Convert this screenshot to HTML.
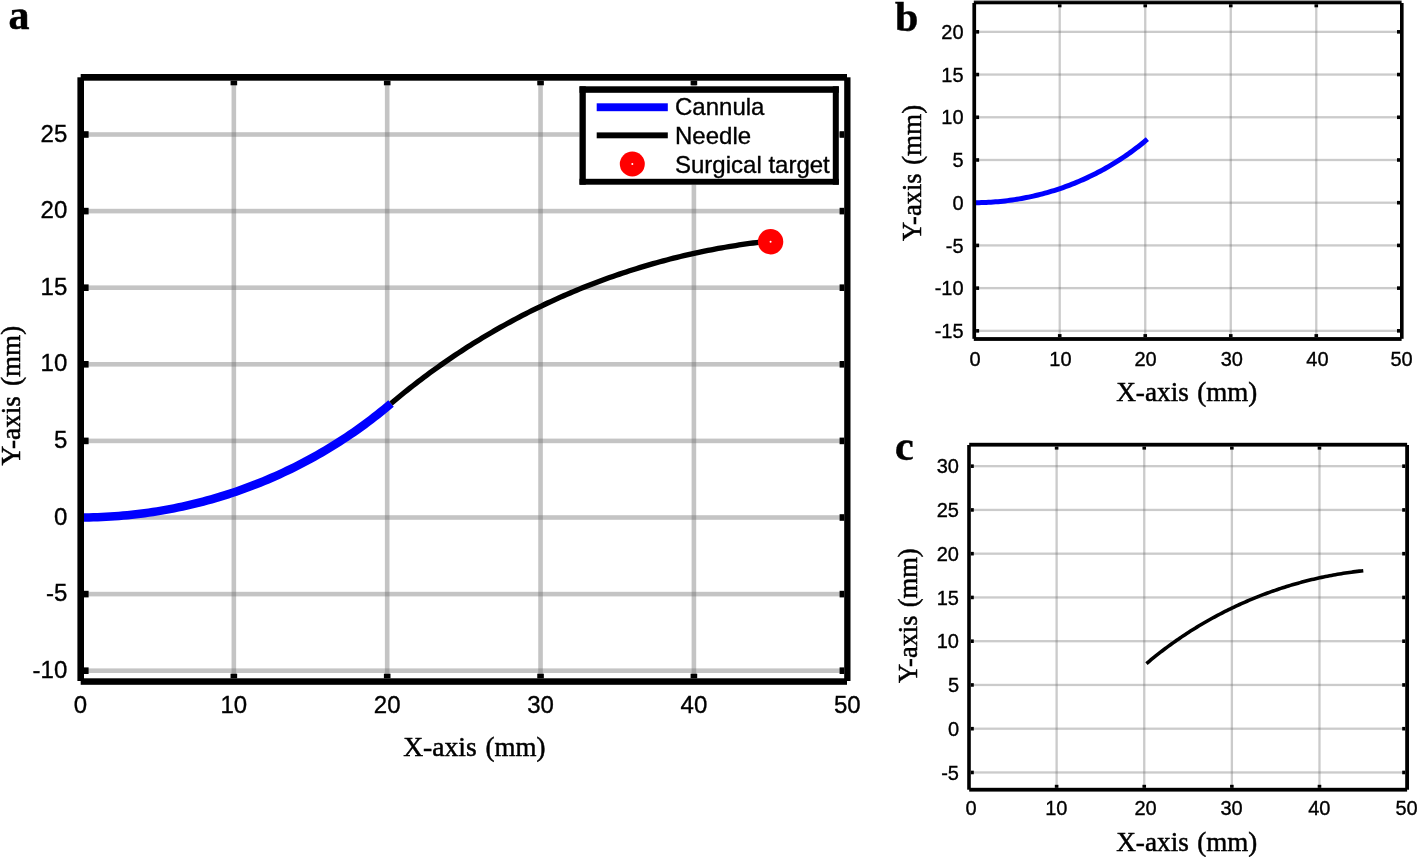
<!DOCTYPE html>
<html><head><meta charset="utf-8"><style>
html,body{margin:0;padding:0;background:#fff;}
body{width:1417px;height:857px;overflow:hidden;}
svg{display:block;}
.t{font-family:"Liberation Sans",Arial,sans-serif;fill:#000;stroke:#000;stroke-width:0.35px;}
.s{font-family:"Liberation Serif","Times New Roman",serif;fill:#000;stroke:#000;stroke-width:0.5px;}
</style></head><body>
<svg width="1417" height="857" viewBox="0 0 1417 857">
<rect width="1417" height="857" fill="#fff"/>
<rect x="973.8" y="0" width="427.8" height="1.1" fill="#a0a0a0"/>
<rect x="231.55" y="80.70" width="4.60" height="597.60" fill="#707070" fill-opacity="0.41"/>
<rect x="384.90" y="80.70" width="4.60" height="597.60" fill="#707070" fill-opacity="0.41"/>
<rect x="538.25" y="80.70" width="4.60" height="597.60" fill="#707070" fill-opacity="0.41"/>
<rect x="691.60" y="80.70" width="4.60" height="597.60" fill="#707070" fill-opacity="0.41"/>
<rect x="84.00" y="668.40" width="760.20" height="4.60" fill="#707070" fill-opacity="0.41"/>
<rect x="84.00" y="591.80" width="760.20" height="4.60" fill="#707070" fill-opacity="0.41"/>
<rect x="84.00" y="515.20" width="760.20" height="4.60" fill="#707070" fill-opacity="0.41"/>
<rect x="84.00" y="438.60" width="760.20" height="4.60" fill="#707070" fill-opacity="0.41"/>
<rect x="84.00" y="362.00" width="760.20" height="4.60" fill="#707070" fill-opacity="0.41"/>
<rect x="84.00" y="285.40" width="760.20" height="4.60" fill="#707070" fill-opacity="0.41"/>
<rect x="84.00" y="208.80" width="760.20" height="4.60" fill="#707070" fill-opacity="0.41"/>
<rect x="84.00" y="132.20" width="760.20" height="4.60" fill="#707070" fill-opacity="0.41"/>
<rect x="230.55" y="80.70" width="6.60" height="4.60" fill="#000"/>
<rect x="230.55" y="673.70" width="6.60" height="4.60" fill="#000"/>
<rect x="383.90" y="80.70" width="6.60" height="4.60" fill="#000"/>
<rect x="383.90" y="673.70" width="6.60" height="4.60" fill="#000"/>
<rect x="537.25" y="80.70" width="6.60" height="4.60" fill="#000"/>
<rect x="537.25" y="673.70" width="6.60" height="4.60" fill="#000"/>
<rect x="690.60" y="80.70" width="6.60" height="4.60" fill="#000"/>
<rect x="690.60" y="673.70" width="6.60" height="4.60" fill="#000"/>
<rect x="84.00" y="667.40" width="4.60" height="6.60" fill="#000"/>
<rect x="839.60" y="667.40" width="4.60" height="6.60" fill="#000"/>
<rect x="84.00" y="590.80" width="4.60" height="6.60" fill="#000"/>
<rect x="839.60" y="590.80" width="4.60" height="6.60" fill="#000"/>
<rect x="84.00" y="514.20" width="4.60" height="6.60" fill="#000"/>
<rect x="839.60" y="514.20" width="4.60" height="6.60" fill="#000"/>
<rect x="84.00" y="437.60" width="4.60" height="6.60" fill="#000"/>
<rect x="839.60" y="437.60" width="4.60" height="6.60" fill="#000"/>
<rect x="84.00" y="361.00" width="4.60" height="6.60" fill="#000"/>
<rect x="839.60" y="361.00" width="4.60" height="6.60" fill="#000"/>
<rect x="84.00" y="284.40" width="4.60" height="6.60" fill="#000"/>
<rect x="839.60" y="284.40" width="4.60" height="6.60" fill="#000"/>
<rect x="84.00" y="207.80" width="4.60" height="6.60" fill="#000"/>
<rect x="839.60" y="207.80" width="4.60" height="6.60" fill="#000"/>
<rect x="84.00" y="131.20" width="4.60" height="6.60" fill="#000"/>
<rect x="839.60" y="131.20" width="4.60" height="6.60" fill="#000"/>
<path d="M80.50,517.50 L84.78,517.48 L89.05,517.42 L93.33,517.33 L97.60,517.20 L101.87,517.02 L106.14,516.81 L110.41,516.57 L114.68,516.28 L118.94,515.96 L123.20,515.60 L127.46,515.20 L131.71,514.76 L135.96,514.29 L140.20,513.77 L144.44,513.22 L148.68,512.63 L152.91,512.01 L157.13,511.35 L161.35,510.64 L165.56,509.91 L169.76,509.13 L173.96,508.32 L178.15,507.46 L182.33,506.58 L186.51,505.65 L190.67,504.69 L194.83,503.69 L198.98,502.65 L203.11,501.58 L207.24,500.47 L211.36,499.32 L215.47,498.14 L219.57,496.92 L223.65,495.66 L227.73,494.37 L231.79,493.04 L235.84,491.67 L239.88,490.27 L243.91,488.84 L247.92,487.36 L251.92,485.85 L255.91,484.31 L259.88,482.73 L263.84,481.11 L267.78,479.46 L271.71,477.78 L275.62,476.06 L279.52,474.30 L283.40,472.51 L287.27,470.69 L291.12,468.83 L294.95,466.94 L298.77,465.01 L302.56,463.05 L306.35,461.06 L310.11,459.03 L313.85,456.97 L317.58,454.87 L321.29,452.75 L324.97,450.58 L328.64,448.39 L332.29,446.17 L335.92,443.91 L339.53,441.62 L343.12,439.29 L346.69,436.94 L350.23,434.55 L353.76,432.14 L357.26,429.69 L360.74,427.21 L364.20,424.70 L367.63,422.15 L371.05,419.58 L374.44,416.98 L377.81,414.35 L381.15,411.68 L384.47,408.99 L387.76,406.27 L391.03,403.52" fill="none" stroke="#0000ff" stroke-width="8.5" stroke-linejoin="round"/>
<path d="M391.03,403.52 L393.72,401.25 L396.43,398.99 L399.14,396.74 L401.86,394.51 L404.60,392.30 L407.35,390.09 L410.10,387.90 L412.87,385.73 L415.65,383.57 L418.44,381.42 L421.24,379.29 L424.06,377.17 L426.88,375.06 L429.71,372.97 L432.56,370.89 L435.41,368.83 L438.27,366.78 L441.15,364.75 L444.03,362.73 L446.93,360.72 L449.83,358.73 L452.75,356.76 L455.67,354.80 L458.61,352.85 L461.55,350.92 L464.51,349.00 L467.47,347.10 L470.44,345.21 L473.43,343.34 L476.42,341.48 L479.42,339.64 L482.43,337.81 L485.45,336.00 L488.48,334.20 L491.52,332.42 L494.56,330.66 L497.62,328.91 L500.68,327.17 L503.76,325.45 L506.84,323.75 L509.93,322.06 L513.03,320.38 L516.14,318.73 L519.25,317.08 L522.37,315.46 L525.51,313.85 L528.65,312.25 L531.79,310.67 L534.95,309.11 L538.11,307.56 L541.29,306.03 L544.46,304.51 L547.65,303.01 L550.84,301.53 L554.05,300.06 L557.26,298.61 L560.47,297.17 L563.69,295.75 L566.93,294.35 L570.16,292.96 L573.41,291.59 L576.66,290.24 L579.92,288.90 L583.18,287.58 L586.45,286.27 L589.73,284.98 L593.01,283.71 L596.31,282.46 L599.60,281.22 L602.91,279.99 L606.21,278.79 L609.53,277.60 L612.85,276.42 L616.18,275.27 L619.51,274.13 L622.85,273.01 L626.19,271.90 L629.54,270.81 L632.90,269.74 L636.26,268.68 L639.62,267.65 L643.00,266.62 L646.37,265.62 L649.75,264.63 L653.14,263.66 L656.53,262.71 L659.92,261.77 L663.33,260.85 L666.73,259.95 L670.14,259.06 L673.55,258.19 L676.97,257.34 L680.39,256.51 L683.82,255.69 L687.25,254.89 L690.68,254.11 L694.12,253.35 L697.57,252.60 L701.01,251.87 L704.46,251.15 L707.91,250.46 L711.37,249.78 L714.83,249.12 L718.29,248.48 L721.76,247.85 L725.23,247.24 L728.70,246.65 L732.18,246.07 L735.66,245.52 L739.14,244.98 L742.62,244.46 L746.11,243.95 L749.60,243.47 L753.09,243.00 L756.58,242.55 L760.08,242.11 L763.57,241.70 L767.07,241.30 L770.58,240.92" fill="none" stroke="#000" stroke-width="5.3" stroke-linejoin="round"/>
<rect x="77.40" y="77.30" width="6.60" height="603.70" fill="#000"/>
<rect x="844.20" y="77.30" width="6.30" height="603.70" fill="#000"/>
<rect x="80.70" y="74.00" width="766.30" height="6.70" fill="#000"/>
<rect x="80.70" y="678.30" width="766.30" height="6.50" fill="#000"/>
<text x="67.30" y="677.70" text-anchor="end" class="t" font-size="24">-10</text>
<text x="67.30" y="601.10" text-anchor="end" class="t" font-size="24">-5</text>
<text x="67.30" y="524.50" text-anchor="end" class="t" font-size="24">0</text>
<text x="67.30" y="447.90" text-anchor="end" class="t" font-size="24">5</text>
<text x="67.30" y="371.30" text-anchor="end" class="t" font-size="24">10</text>
<text x="67.30" y="294.70" text-anchor="end" class="t" font-size="24">15</text>
<text x="67.30" y="218.10" text-anchor="end" class="t" font-size="24">20</text>
<text x="67.30" y="141.50" text-anchor="end" class="t" font-size="24">25</text>
<text x="80.50" y="712.60" text-anchor="middle" class="t" font-size="24">0</text>
<text x="233.85" y="712.60" text-anchor="middle" class="t" font-size="24">10</text>
<text x="387.20" y="712.60" text-anchor="middle" class="t" font-size="24">20</text>
<text x="540.55" y="712.60" text-anchor="middle" class="t" font-size="24">30</text>
<text x="693.90" y="712.60" text-anchor="middle" class="t" font-size="24">40</text>
<text x="847.25" y="712.60" text-anchor="middle" class="t" font-size="24">50</text>
<text x="403.19" y="755.80" class="s" font-size="27.8" textLength="73.60" lengthAdjust="spacingAndGlyphs">X-axis</text>
<text x="485.41" y="755.80" class="s" font-size="27.8" textLength="59.97" lengthAdjust="spacingAndGlyphs">(mm)</text>
<text transform="translate(19.80,465.59) rotate(-90)" x="0" y="0" class="s" font-size="27.8" textLength="69.54" lengthAdjust="spacingAndGlyphs">Y-axis</text>
<text transform="translate(19.80,385.99) rotate(-90)" x="0" y="0" class="s" font-size="27.8" textLength="60.18" lengthAdjust="spacingAndGlyphs">(mm)</text>
<text x="8.50" y="28.50" class="s" font-weight="bold" font-size="42">a</text>
<circle cx="770.58" cy="241.74" r="12.7" fill="#ff0000"/>
<circle cx="770.58" cy="241.74" r="1" fill="#fff"/>
<rect x="579.50" y="86.30" width="259.30" height="98.40" fill="#fff"/>
<rect x="579.50" y="86.30" width="259.30" height="6.50" fill="#000"/>
<rect x="579.50" y="178.80" width="259.30" height="5.90" fill="#000"/>
<rect x="579.50" y="86.30" width="6.30" height="98.40" fill="#000"/>
<rect x="832.80" y="86.30" width="6.00" height="98.40" fill="#000"/>
<rect x="596.70" y="103.30" width="71.10" height="7.90" fill="#0000ff"/>
<rect x="596.70" y="132.40" width="71.10" height="5.90" fill="#000"/>
<circle cx="632.3" cy="164" r="12.5" fill="#ff0000"/><circle cx="632.3" cy="164" r="1" fill="#fff"/>
<text x="675" y="115" class="t" font-size="24">Cannula</text>
<text x="675" y="143.8" class="t" font-size="24">Needle</text>
<text x="675" y="172.8" class="t" font-size="24">Surgical target</text>
<rect x="1058.57" y="4.30" width="2.30" height="332.80" fill="#707070" fill-opacity="0.36"/>
<rect x="1144.09" y="4.30" width="2.30" height="332.80" fill="#707070" fill-opacity="0.36"/>
<rect x="1229.61" y="4.30" width="2.30" height="332.80" fill="#707070" fill-opacity="0.36"/>
<rect x="1315.13" y="4.30" width="2.30" height="332.80" fill="#707070" fill-opacity="0.36"/>
<rect x="976.10" y="329.69" width="423.90" height="2.30" fill="#707070" fill-opacity="0.36"/>
<rect x="976.10" y="286.98" width="423.90" height="2.30" fill="#707070" fill-opacity="0.36"/>
<rect x="976.10" y="244.26" width="423.90" height="2.30" fill="#707070" fill-opacity="0.36"/>
<rect x="976.10" y="201.55" width="423.90" height="2.30" fill="#707070" fill-opacity="0.36"/>
<rect x="976.10" y="158.83" width="423.90" height="2.30" fill="#707070" fill-opacity="0.36"/>
<rect x="976.10" y="116.12" width="423.90" height="2.30" fill="#707070" fill-opacity="0.36"/>
<rect x="976.10" y="73.41" width="423.90" height="2.30" fill="#707070" fill-opacity="0.36"/>
<rect x="976.10" y="30.69" width="423.90" height="2.30" fill="#707070" fill-opacity="0.36"/>
<rect x="1057.92" y="4.30" width="3.60" height="3.00" fill="#000"/>
<rect x="1057.92" y="334.10" width="3.60" height="3.00" fill="#000"/>
<rect x="1143.44" y="4.30" width="3.60" height="3.00" fill="#000"/>
<rect x="1143.44" y="334.10" width="3.60" height="3.00" fill="#000"/>
<rect x="1228.96" y="4.30" width="3.60" height="3.00" fill="#000"/>
<rect x="1228.96" y="334.10" width="3.60" height="3.00" fill="#000"/>
<rect x="1314.48" y="4.30" width="3.60" height="3.00" fill="#000"/>
<rect x="1314.48" y="334.10" width="3.60" height="3.00" fill="#000"/>
<rect x="976.10" y="329.04" width="3.00" height="3.60" fill="#000"/>
<rect x="1397.00" y="329.04" width="3.00" height="3.60" fill="#000"/>
<rect x="976.10" y="286.33" width="3.00" height="3.60" fill="#000"/>
<rect x="1397.00" y="286.33" width="3.00" height="3.60" fill="#000"/>
<rect x="976.10" y="243.61" width="3.00" height="3.60" fill="#000"/>
<rect x="1397.00" y="243.61" width="3.00" height="3.60" fill="#000"/>
<rect x="976.10" y="200.90" width="3.00" height="3.60" fill="#000"/>
<rect x="1397.00" y="200.90" width="3.00" height="3.60" fill="#000"/>
<rect x="976.10" y="158.18" width="3.00" height="3.60" fill="#000"/>
<rect x="1397.00" y="158.18" width="3.00" height="3.60" fill="#000"/>
<rect x="976.10" y="115.47" width="3.00" height="3.60" fill="#000"/>
<rect x="1397.00" y="115.47" width="3.00" height="3.60" fill="#000"/>
<rect x="976.10" y="72.76" width="3.00" height="3.60" fill="#000"/>
<rect x="1397.00" y="72.76" width="3.00" height="3.60" fill="#000"/>
<rect x="976.10" y="30.04" width="3.00" height="3.60" fill="#000"/>
<rect x="1397.00" y="30.04" width="3.00" height="3.60" fill="#000"/>
<path d="M974.20,202.70 L976.58,202.69 L978.97,202.66 L981.35,202.60 L983.74,202.53 L986.12,202.43 L988.50,202.32 L990.88,202.18 L993.26,202.02 L995.64,201.84 L998.01,201.64 L1000.39,201.42 L1002.76,201.17 L1005.13,200.91 L1007.49,200.62 L1009.86,200.32 L1012.22,199.99 L1014.58,199.64 L1016.93,199.27 L1019.29,198.88 L1021.64,198.46 L1023.98,198.03 L1026.32,197.58 L1028.66,197.10 L1030.99,196.61 L1033.32,196.09 L1035.64,195.56 L1037.96,195.00 L1040.27,194.42 L1042.58,193.82 L1044.88,193.20 L1047.18,192.56 L1049.47,191.90 L1051.75,191.22 L1054.03,190.52 L1056.31,189.80 L1058.57,189.06 L1060.83,188.30 L1063.08,187.52 L1065.33,186.72 L1067.57,185.89 L1069.80,185.05 L1072.02,184.19 L1074.24,183.31 L1076.44,182.41 L1078.64,181.49 L1080.83,180.55 L1083.02,179.59 L1085.19,178.61 L1087.35,177.61 L1089.51,176.60 L1091.66,175.56 L1093.79,174.51 L1095.92,173.43 L1098.04,172.34 L1100.15,171.23 L1102.25,170.09 L1104.34,168.95 L1106.41,167.78 L1108.48,166.59 L1110.54,165.39 L1112.58,164.16 L1114.62,162.92 L1116.64,161.66 L1118.66,160.38 L1120.66,159.09 L1122.65,157.78 L1124.62,156.45 L1126.59,155.10 L1128.54,153.73 L1130.48,152.35 L1132.41,150.95 L1134.33,149.53 L1136.23,148.10 L1138.12,146.65 L1140.00,145.18 L1141.87,143.69 L1143.72,142.19 L1145.55,140.67 L1147.38,139.14" fill="none" stroke="#0000ff" stroke-width="5" stroke-linejoin="round"/>
<rect x="972.40" y="3.00" width="3.70" height="335.80" fill="#000"/>
<rect x="1400.00" y="3.00" width="3.60" height="335.80" fill="#000"/>
<rect x="973.80" y="1.10" width="427.80" height="3.20" fill="#000"/>
<rect x="973.80" y="337.10" width="427.80" height="3.80" fill="#000"/>
<text x="963.60" y="338.04" text-anchor="end" class="t" font-size="20">-15</text>
<text x="963.60" y="295.33" text-anchor="end" class="t" font-size="20">-10</text>
<text x="963.60" y="252.61" text-anchor="end" class="t" font-size="20">-5</text>
<text x="963.60" y="209.90" text-anchor="end" class="t" font-size="20">0</text>
<text x="963.60" y="167.18" text-anchor="end" class="t" font-size="20">5</text>
<text x="963.60" y="124.47" text-anchor="end" class="t" font-size="20">10</text>
<text x="963.60" y="81.76" text-anchor="end" class="t" font-size="20">15</text>
<text x="963.60" y="39.04" text-anchor="end" class="t" font-size="20">20</text>
<text x="975.05" y="366.00" text-anchor="middle" class="t" font-size="20">0</text>
<text x="1060.42" y="366.00" text-anchor="middle" class="t" font-size="20">10</text>
<text x="1145.64" y="366.00" text-anchor="middle" class="t" font-size="20">20</text>
<text x="1231.86" y="366.00" text-anchor="middle" class="t" font-size="20">30</text>
<text x="1317.48" y="366.00" text-anchor="middle" class="t" font-size="20">40</text>
<text x="1401.50" y="366.00" text-anchor="middle" class="t" font-size="20">50</text>
<text x="1116.20" y="401.30" class="s" font-size="27.8" textLength="72.68" lengthAdjust="spacingAndGlyphs">X-axis</text>
<text x="1197.21" y="401.30" class="s" font-size="27.8" textLength="59.97" lengthAdjust="spacingAndGlyphs">(mm)</text>
<text transform="translate(921.00,241.09) rotate(-90)" x="0" y="0" class="s" font-size="27.8" textLength="67.70" lengthAdjust="spacingAndGlyphs">Y-axis</text>
<text transform="translate(921.00,165.09) rotate(-90)" x="0" y="0" class="s" font-size="27.8" textLength="60.29" lengthAdjust="spacingAndGlyphs">(mm)</text>
<text x="895.00" y="30.50" class="s" font-weight="bold" font-size="42">b</text>
<rect x="1055.47" y="446.60" width="2.30" height="341.20" fill="#707070" fill-opacity="0.36"/>
<rect x="1143.09" y="446.60" width="2.30" height="341.20" fill="#707070" fill-opacity="0.36"/>
<rect x="1230.71" y="446.60" width="2.30" height="341.20" fill="#707070" fill-opacity="0.36"/>
<rect x="1318.33" y="446.60" width="2.30" height="341.20" fill="#707070" fill-opacity="0.36"/>
<rect x="970.80" y="771.31" width="434.40" height="2.30" fill="#707070" fill-opacity="0.36"/>
<rect x="970.80" y="727.55" width="434.40" height="2.30" fill="#707070" fill-opacity="0.36"/>
<rect x="970.80" y="683.80" width="434.40" height="2.30" fill="#707070" fill-opacity="0.36"/>
<rect x="970.80" y="640.04" width="434.40" height="2.30" fill="#707070" fill-opacity="0.36"/>
<rect x="970.80" y="596.29" width="434.40" height="2.30" fill="#707070" fill-opacity="0.36"/>
<rect x="970.80" y="552.53" width="434.40" height="2.30" fill="#707070" fill-opacity="0.36"/>
<rect x="970.80" y="508.78" width="434.40" height="2.30" fill="#707070" fill-opacity="0.36"/>
<rect x="970.80" y="465.02" width="434.40" height="2.30" fill="#707070" fill-opacity="0.36"/>
<rect x="1054.82" y="446.60" width="3.60" height="3.00" fill="#000"/>
<rect x="1054.82" y="784.80" width="3.60" height="3.00" fill="#000"/>
<rect x="1142.44" y="446.60" width="3.60" height="3.00" fill="#000"/>
<rect x="1142.44" y="784.80" width="3.60" height="3.00" fill="#000"/>
<rect x="1230.06" y="446.60" width="3.60" height="3.00" fill="#000"/>
<rect x="1230.06" y="784.80" width="3.60" height="3.00" fill="#000"/>
<rect x="1317.68" y="446.60" width="3.60" height="3.00" fill="#000"/>
<rect x="1317.68" y="784.80" width="3.60" height="3.00" fill="#000"/>
<rect x="970.80" y="770.66" width="3.00" height="3.60" fill="#000"/>
<rect x="1402.20" y="770.66" width="3.00" height="3.60" fill="#000"/>
<rect x="970.80" y="726.90" width="3.00" height="3.60" fill="#000"/>
<rect x="1402.20" y="726.90" width="3.00" height="3.60" fill="#000"/>
<rect x="970.80" y="683.15" width="3.00" height="3.60" fill="#000"/>
<rect x="1402.20" y="683.15" width="3.00" height="3.60" fill="#000"/>
<rect x="970.80" y="639.39" width="3.00" height="3.60" fill="#000"/>
<rect x="1402.20" y="639.39" width="3.00" height="3.60" fill="#000"/>
<rect x="970.80" y="595.64" width="3.00" height="3.60" fill="#000"/>
<rect x="1402.20" y="595.64" width="3.00" height="3.60" fill="#000"/>
<rect x="970.80" y="551.88" width="3.00" height="3.60" fill="#000"/>
<rect x="1402.20" y="551.88" width="3.00" height="3.60" fill="#000"/>
<rect x="970.80" y="508.13" width="3.00" height="3.60" fill="#000"/>
<rect x="1402.20" y="508.13" width="3.00" height="3.60" fill="#000"/>
<rect x="970.80" y="464.37" width="3.00" height="3.60" fill="#000"/>
<rect x="1402.20" y="464.37" width="3.00" height="3.60" fill="#000"/>
<path d="M1146.43,663.59 L1147.97,662.29 L1149.51,661.01 L1151.06,659.72 L1152.62,658.45 L1154.18,657.18 L1155.75,655.92 L1157.33,654.67 L1158.91,653.43 L1160.50,652.20 L1162.09,650.97 L1163.69,649.75 L1165.30,648.54 L1166.91,647.34 L1168.53,646.14 L1170.15,644.96 L1171.79,643.78 L1173.42,642.61 L1175.06,641.45 L1176.71,640.29 L1178.37,639.15 L1180.03,638.01 L1181.69,636.88 L1183.36,635.76 L1185.04,634.65 L1186.72,633.55 L1188.41,632.45 L1190.10,631.36 L1191.80,630.29 L1193.51,629.22 L1195.22,628.16 L1196.93,627.10 L1198.65,626.06 L1200.38,625.03 L1202.11,624.00 L1203.84,622.98 L1205.58,621.97 L1207.33,620.97 L1209.08,619.98 L1210.84,619.00 L1212.60,618.02 L1214.36,617.06 L1216.13,616.10 L1217.91,615.16 L1219.69,614.22 L1221.48,613.29 L1223.26,612.37 L1225.06,611.46 L1226.86,610.56 L1228.66,609.66 L1230.47,608.78 L1232.28,607.90 L1234.10,607.04 L1235.92,606.18 L1237.74,605.33 L1239.57,604.49 L1241.41,603.67 L1243.24,602.85 L1245.08,602.03 L1246.93,601.23 L1248.78,600.44 L1250.63,599.66 L1252.49,598.88 L1254.35,598.12 L1256.22,597.37 L1258.09,596.62 L1259.96,595.88 L1261.84,595.16 L1263.72,594.44 L1265.60,593.73 L1267.49,593.03 L1269.38,592.34 L1271.27,591.66 L1273.17,590.99 L1275.07,590.33 L1276.98,589.68 L1278.88,589.04 L1280.79,588.41 L1282.71,587.79 L1284.63,587.18 L1286.55,586.57 L1288.47,585.98 L1290.39,585.40 L1292.32,584.82 L1294.26,584.26 L1296.19,583.70 L1298.13,583.16 L1300.07,582.62 L1302.01,582.10 L1303.96,581.58 L1305.90,581.08 L1307.85,580.58 L1309.81,580.09 L1311.76,579.62 L1313.72,579.15 L1315.68,578.70 L1317.64,578.25 L1319.61,577.81 L1321.57,577.38 L1323.54,576.97 L1325.51,576.56 L1327.49,576.16 L1329.46,575.77 L1331.44,575.40 L1333.42,575.03 L1335.40,574.67 L1337.38,574.32 L1339.36,573.99 L1341.35,573.66 L1343.34,573.34 L1345.33,573.03 L1347.32,572.73 L1349.31,572.45 L1351.30,572.17 L1353.30,571.90 L1355.29,571.64 L1357.29,571.39 L1359.29,571.16 L1361.29,570.93 L1363.29,570.71" fill="none" stroke="#000" stroke-width="3.6" stroke-linejoin="round"/>
<rect x="967.20" y="445.00" width="3.60" height="344.70" fill="#000"/>
<rect x="1405.20" y="445.00" width="3.80" height="344.70" fill="#000"/>
<rect x="969.20" y="442.80" width="437.90" height="3.80" fill="#000"/>
<rect x="969.20" y="787.80" width="437.90" height="3.80" fill="#000"/>
<text x="959.00" y="779.66" text-anchor="end" class="t" font-size="20">-5</text>
<text x="959.00" y="735.90" text-anchor="end" class="t" font-size="20">0</text>
<text x="959.00" y="692.15" text-anchor="end" class="t" font-size="20">5</text>
<text x="959.00" y="648.39" text-anchor="end" class="t" font-size="20">10</text>
<text x="959.00" y="604.64" text-anchor="end" class="t" font-size="20">15</text>
<text x="959.00" y="560.88" text-anchor="end" class="t" font-size="20">20</text>
<text x="959.00" y="517.13" text-anchor="end" class="t" font-size="20">25</text>
<text x="959.00" y="473.37" text-anchor="end" class="t" font-size="20">30</text>
<text x="971.00" y="815.00" text-anchor="middle" class="t" font-size="20">0</text>
<text x="1056.32" y="815.00" text-anchor="middle" class="t" font-size="20">10</text>
<text x="1145.64" y="815.00" text-anchor="middle" class="t" font-size="20">20</text>
<text x="1231.56" y="815.00" text-anchor="middle" class="t" font-size="20">30</text>
<text x="1319.28" y="815.00" text-anchor="middle" class="t" font-size="20">40</text>
<text x="1406.50" y="815.00" text-anchor="middle" class="t" font-size="20">50</text>
<text x="1116.20" y="850.70" class="s" font-size="27.8" textLength="72.68" lengthAdjust="spacingAndGlyphs">X-axis</text>
<text x="1197.21" y="850.70" class="s" font-size="27.8" textLength="59.97" lengthAdjust="spacingAndGlyphs">(mm)</text>
<text transform="translate(917.30,683.08) rotate(-90)" x="0" y="0" class="s" font-size="27.8" textLength="67.60" lengthAdjust="spacingAndGlyphs">Y-axis</text>
<text transform="translate(917.30,607.37) rotate(-90)" x="0" y="0" class="s" font-size="27.8" textLength="59.04" lengthAdjust="spacingAndGlyphs">(mm)</text>
<text x="895.00" y="459.50" class="s" font-weight="bold" font-size="42">c</text>
</svg>
</body></html>
